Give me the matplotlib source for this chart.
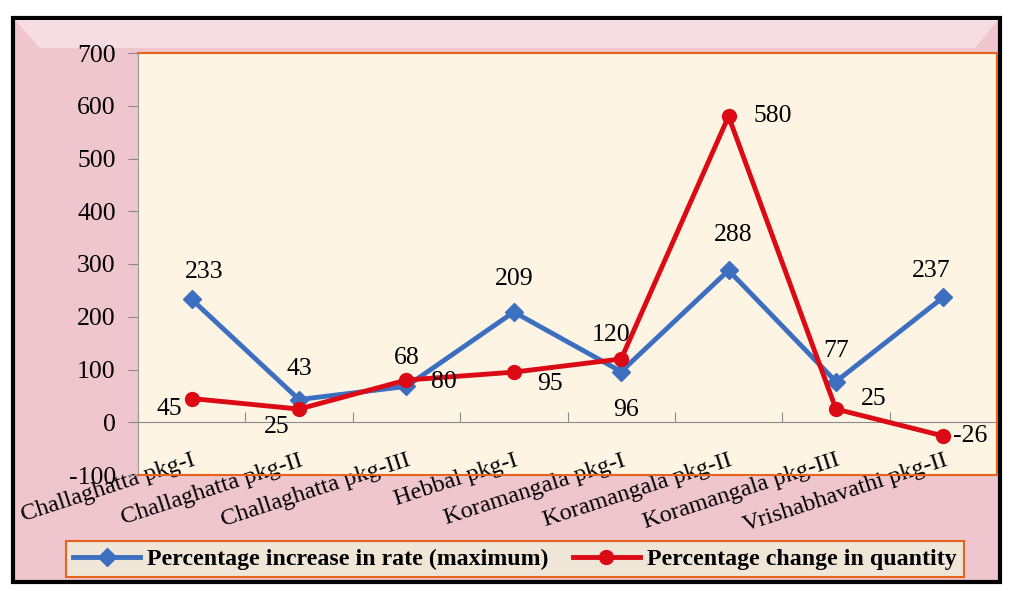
import numpy as np
import matplotlib
matplotlib.use("Agg")
import matplotlib.pyplot as plt
from matplotlib.patches import Rectangle, Polygon
from matplotlib.lines import Line2D

plt.rcParams['font.family'] = ['Liberation Serif', 'DejaVu Serif']

# 数据
packages = ["Challaghatta pkg-I", "Challaghatta pkg-II", "Challaghatta pkg-III",
            "Hebbal pkg-I", "Koramangala pkg-I", "Koramangala pkg-II",
            "Koramangala pkg-III", "Vrishabhavathi pkg-II"]
rate_increase = [233, 43, 68, 209, 96, 288, 77, 237]
quantity_change = [45, 25, 80, 95, 120, 580, 25, -26]
yticks = [-100, 0, 100, 200, 300, 400, 500, 600, 700]

# 标签偏移（像素）
rate_offsets = [(13, 27), (0, 31), (0, 28), (0, 33), (5, -38), (5, 35), (0, 31), (-12, 26)]
qty_offsets = [(-22, -10), (-22, -18), (37, -2), (36, -12), (-10, 24), (44, 0), (38, 10), (10, 0)]
qty_ha = ['center'] * 7 + ['left']

BLUE = '#3d6fc0'
RED = '#dc0a14'

fig = plt.figure(figsize=(10.10, 5.91), dpi=100)
fig.patch.set_facecolor('white')

# 外框（粉色）
fig.patches.append(Rectangle((13 / 1010, 1 - 582 / 591), 987 / 1010, 564 / 591,
                             transform=fig.transFigure, facecolor='#efc5ce',
                             edgecolor='black', linewidth=3, zorder=0))
fig.patches.append(Polygon([(15 / 1010, 1 - 20 / 591), (998 / 1010, 1 - 20 / 591),
                            (975 / 1010, 1 - 48 / 591), (40 / 1010, 1 - 48 / 591)],
                           closed=True, transform=fig.transFigure,
                           facecolor='#f6dde3', edgecolor='none', zorder=0))

ax = fig.add_axes([138 / 1010, 1 - 475 / 591, 859 / 1010, 422 / 591])
ax.set_zorder(2)
ax.set_facecolor('#fdf4e4')

x = np.arange(len(packages))
ax.plot(x, rate_increase, color=BLUE, lw=3.5, marker='D', ms=9,
        label='Percentage increase in rate (maximum)', zorder=3)
ax.plot(x, quantity_change, color=RED, lw=3.5, marker='o', ms=10,
        label='Percentage change in quantity', zorder=4)

for i, v in enumerate(rate_increase):
    ax.annotate(str(v), (x[i], v), xytext=rate_offsets[i], textcoords='offset pixels',
                ha='center', va='center', fontsize=18.5, zorder=5)
for i, v in enumerate(quantity_change):
    ax.annotate(str(v), (x[i], v), xytext=qty_offsets[i], textcoords='offset pixels',
                ha=qty_ha[i], va='center', fontsize=18.5, zorder=5)

ax.set_xlim(-0.5, len(packages) - 0.5)
ax.set_ylim(-100, 700)
ax.set_yticks(yticks)
ax.set_yticklabels([str(t) for t in yticks], fontsize=18.5)
ax.tick_params(axis='y', direction='out', length=7, color='#888888', pad=9)

# x 轴在 0 处
ax.spines['bottom'].set_position(('data', 0))
ax.spines['bottom'].set_color('#8a8a8a')
ax.spines['left'].set_color('#9a9a9a')
ax.spines['top'].set_visible(False)
ax.spines['right'].set_visible(False)
ax.set_xticks(np.arange(len(packages) + 1) - 0.5)
ax.set_xticklabels([])
ax.tick_params(axis='x', which='major', direction='in', length=7, color='#8a8a8a')
ax.set_xticks(x, minor=True)
ax.set_xticklabels(packages, minor=True, rotation=18, ha='right',
                   rotation_mode='anchor', fontsize=17.5)
ax.tick_params(axis='x', which='minor', length=0, pad=20)

# 绘图区橙色边框
ax.plot([0, 1, 1, 0], [1, 1, 0, 0], transform=ax.transAxes, color='#e8641c',
        lw=1.5, clip_on=False, zorder=6)

# 图例
handles = [Line2D([], [], color=BLUE, lw=3.5, marker='D', ms=9),
           Line2D([], [], color=RED, lw=3.5, marker='o', ms=10)]
leg = fig.legend(handles, ['Percentage increase in rate (maximum)', 'Percentage change in quantity'],
                 loc='center', bbox_to_anchor=(515 / 1010, 1 - 559 / 591),
                 ncol=2, frameon=True, fancybox=False, handlelength=2.8,
                 columnspacing=1.0, handletextpad=0.3, borderpad=0.3,
                 prop={'size': 17.2, 'weight': 'bold'})
leg.get_frame().set_facecolor('#efe6d8')
leg.get_frame().set_edgecolor('#e8641c')
leg.get_frame().set_linewidth(1.5)
leg.get_frame().set_alpha(1)

fig.savefig('out.png', dpi=100, facecolor=fig.get_facecolor())
